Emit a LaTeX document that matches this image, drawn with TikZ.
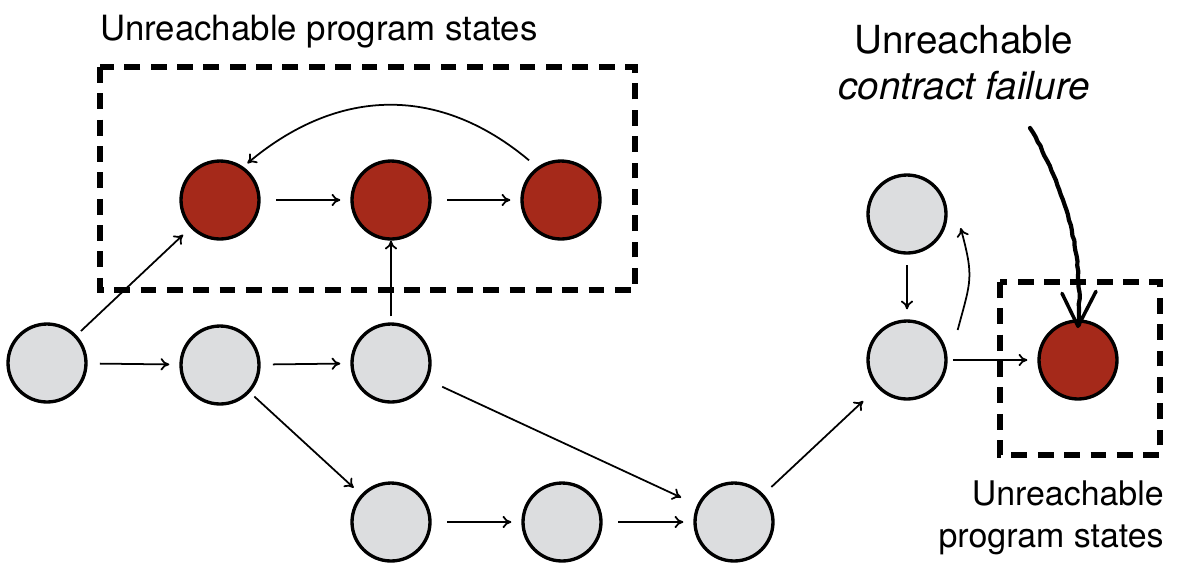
\documentclass[tikz,border=0pt]{standalone}
\usepackage{fontspec}
\setmainfont{TeX Gyre Heros}
\usetikzlibrary{arrows.meta,decorations.pathmorphing}
\definecolor{stategray}{RGB}{220,221,223}
\definecolor{badred}{RGB}{165,41,26}

\begin{document}
\begin{tikzpicture}[x=0.02cm,y=-0.02cm,
  state/.style={circle,draw,line width=1.9pt,fill=stategray,minimum size=1.56cm,inner sep=0pt},
  bad/.style={state,fill=badred},
  edge/.style={-{To[length=5pt,width=7pt]},line width=1pt,shorten <=3.4pt,shorten >=5.7pt},
  region/.style={line width=3.4pt,dash pattern=on 9pt off 6pt}]
\useasboundingbox (0,0) rectangle (1180,566);

% dashed regions
\draw[region] (100,67) rectangle (635,290);
\draw[region] (1000,282) rectangle (1160,455);

% states
\node[bad] (r1) at (220,200) {};
\node[bad] (r2) at (391,200) {};
\node[bad] (r3) at (561,200) {};
\node[state] (g1) at (47,363) {};
\node[state] (g2) at (220,365) {};
\node[state] (g3) at (391,363) {};
\node[state] (b1) at (391,522) {};
\node[state] (b2) at (562,522) {};
\node[state] (b3) at (734,522) {};
\node[state] (t1) at (907,214) {};
\node[state] (m) at (907,360) {};
\node[bad] (r4) at (1078,360) {};

% transitions
\draw[edge] (g1) -- (r1);
\draw[edge,shorten <=7pt] (g1) -- (g2);
\draw[edge,shorten <=7pt] (g2) -- (g3);
\draw[edge,shorten >=0pt] (g3) -- (r2);
\draw[edge,shorten <=9pt] (r1) -- (r2);
\draw[edge,shorten <=9pt] (r2) -- (r3);
\draw[edge,shorten <=6pt,shorten >=3pt] (r3.126) to[out=140,in=40,looseness=1.1] (r1.55);
\draw[edge] (g2) -- (b1);
\draw[edge,shorten <=9pt,shorten >=10pt] (g3) -- (b3);
\draw[edge,shorten <=9pt] (b1) -- (b2);
\draw[edge,shorten <=9pt] (b2) -- (b3);
\draw[edge,shorten <=6pt,shorten >=11pt] (b3) -- (m);
\draw[edge,shorten <=6pt] (t1) -- (m);
\draw[edge,shorten <=0pt,shorten >=0pt] ([shift={(10,-30)}]m.east) to[out=75,in=-75,looseness=1.3] ([shift={(13,14)}]t1.east);
\draw[edge,shorten <=3pt] (m) -- (r4);

% hand drawn pointer
\coordinate (hand) at (1030,128);
\draw[line width=2.4pt,line cap=round,shorten >=4pt,
  decoration={random steps,segment length=3pt,amplitude=0.35pt},decorate]
  (hand) .. controls (1066,190) and (1084,250) .. ([yshift=-0.25cm]r4.north);
\draw[line width=2pt,line cap=round,line join=round]
  ([shift={(-16,-26)}]r4.north) -- ([yshift=-0.14cm]r4.north) -- ([shift={(18,-28)}]r4.north);

% labels
\node[anchor=base west,inner sep=0pt,font=\fontsize{19.8}{24}\selectfont] (top) at (100,40) {Unreachable program states};
\node[align=center,inner sep=0pt,font=\fontsize{22}{26}\selectfont] (fail) at (964,63) {Unreachable\\\textit{contract failure}};
\node[anchor=north east,align=right,inner sep=0pt,font=\fontsize{19.3}{24}\selectfont] (side) at (1164,480) {Unreachable\\program states};
\end{tikzpicture}
\end{document}
